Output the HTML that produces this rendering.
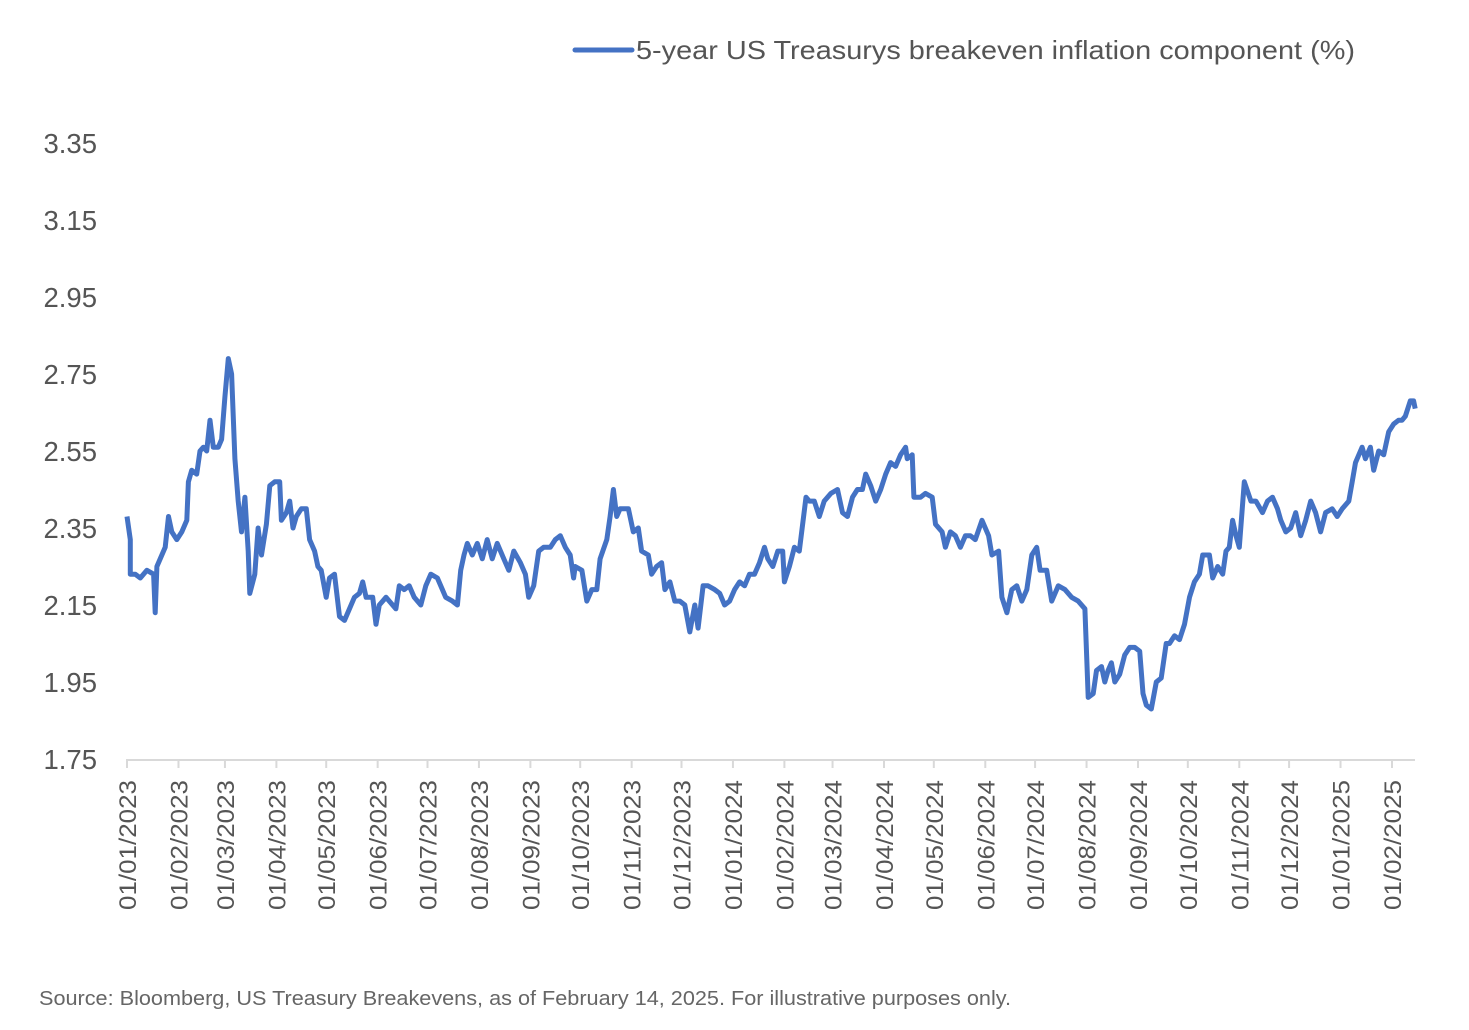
<!DOCTYPE html>
<html><head><meta charset="utf-8"><style>
body{margin:0;background:#fff;}
svg{display:block;font-family:"Liberation Sans",sans-serif;}
</style></head><body>
<svg id="chart" width="1469" height="1030">
<g>
<line x1="575" y1="50" x2="632" y2="50" stroke="#4472C4" stroke-width="5" stroke-linecap="round"/>
<text x="636" y="59" font-size="26" fill="#555" textLength="719" lengthAdjust="spacingAndGlyphs">5-year US Treasurys breakeven inflation component (%)</text>
</g>
<g id="yaxis"></g>
<g id="xaxis"></g>
<g id="series"></g>
<text x="39" y="1005" font-size="20" fill="#666" textLength="972" lengthAdjust="spacingAndGlyphs">Source: Bloomberg, US Treasury Breakevens, as of February 14, 2025. For illustrative purposes only.</text>
</svg>
<script>
const yTicks=[1.75,1.95,2.15,2.35,2.55,2.75,2.95,3.15,3.35];
const monthDays=[0,31,59,90,120,151,181,212,243,273,304,334,365,396,425,456,486,517,547,578,609,639,670,700,731,762];
const monthLabels=["01/01/2023","01/02/2023","01/03/2023","01/04/2023","01/05/2023","01/06/2023","01/07/2023","01/08/2023","01/09/2023","01/10/2023","01/11/2023","01/12/2023","01/01/2024","01/02/2024","01/03/2024","01/04/2024","01/05/2024","01/06/2024","01/07/2024","01/08/2024","01/09/2024","01/10/2024","01/11/2024","01/12/2024","01/01/2025","01/02/2025"];
const days=[0,2,2,5,8,12,16,17,18,23,25,27,30,33,36,37,39,42,44,46,48,50,52,55,57,59,61,63,65,67,69,71,73,74,77,79,81,84,86,89,92,93,96,98,100,102,105,108,110,113,115,117,120,122,125,128,131,134,137,140,142,144,148,150,152,156,160,162,164,167,170,173,177,180,183,187,190,192,196,199,201,203,205,208,211,214,217,220,223,227,230,233,237,240,242,245,248,251,255,258,261,264,267,269,270,274,277,280,283,285,289,291,293,295,297,299,302,305,308,310,314,316,319,322,324,327,330,333,336,339,342,344,347,350,354,357,360,363,366,369,372,375,378,381,384,386,389,392,395,396,399,402,405,409,411,414,417,420,424,428,431,434,437,440,443,445,448,451,454,457,460,463,466,469,470,473,474,478,481,485,487,491,493,496,499,502,505,508,511,515,519,521,525,527,530,533,536,539,542,545,548,550,554,557,561,565,569,573,577,579,582,584,587,589,591,593,595,598,601,604,607,610,612,614,617,620,623,626,628,631,634,637,640,643,646,648,652,654,657,660,662,664,666,668,670,673,677,680,684,687,690,693,695,698,701,704,707,710,713,716,719,722,726,729,732,736,738,740,744,746,749,751,754,757,760,763,766,768,770,773,775,776];
const values=[2.38,2.32,2.23,2.23,2.22,2.24,2.23,2.13,2.25,2.30,2.38,2.34,2.32,2.34,2.37,2.47,2.50,2.49,2.55,2.56,2.55,2.63,2.56,2.56,2.58,2.69,2.79,2.75,2.53,2.42,2.34,2.43,2.29,2.18,2.23,2.35,2.28,2.36,2.46,2.47,2.47,2.37,2.39,2.42,2.35,2.38,2.40,2.40,2.32,2.29,2.25,2.24,2.17,2.22,2.23,2.12,2.11,2.14,2.17,2.18,2.21,2.17,2.17,2.10,2.15,2.17,2.15,2.14,2.20,2.19,2.20,2.17,2.15,2.20,2.23,2.22,2.19,2.17,2.16,2.15,2.24,2.28,2.31,2.28,2.31,2.27,2.32,2.27,2.31,2.27,2.24,2.29,2.26,2.23,2.17,2.20,2.29,2.30,2.30,2.32,2.33,2.30,2.28,2.22,2.25,2.24,2.16,2.19,2.19,2.27,2.32,2.38,2.45,2.38,2.40,2.40,2.40,2.34,2.35,2.29,2.28,2.23,2.25,2.26,2.19,2.21,2.16,2.16,2.15,2.08,2.15,2.09,2.20,2.20,2.19,2.18,2.15,2.16,2.19,2.21,2.20,2.23,2.23,2.26,2.30,2.27,2.25,2.29,2.29,2.21,2.25,2.30,2.29,2.43,2.42,2.42,2.38,2.42,2.44,2.45,2.39,2.38,2.43,2.45,2.45,2.49,2.46,2.42,2.45,2.49,2.52,2.51,2.54,2.56,2.53,2.54,2.43,2.43,2.44,2.43,2.36,2.34,2.30,2.34,2.33,2.30,2.33,2.33,2.32,2.37,2.33,2.28,2.29,2.17,2.13,2.19,2.20,2.16,2.19,2.28,2.30,2.24,2.24,2.16,2.20,2.19,2.17,2.16,2.14,1.91,1.92,1.98,1.99,1.95,1.98,2.00,1.95,1.97,2.02,2.04,2.04,2.03,1.92,1.89,1.88,1.95,1.96,2.05,2.05,2.07,2.06,2.10,2.17,2.21,2.23,2.28,2.28,2.22,2.25,2.23,2.29,2.30,2.37,2.33,2.30,2.47,2.42,2.42,2.39,2.42,2.43,2.40,2.37,2.34,2.35,2.39,2.33,2.37,2.42,2.39,2.34,2.39,2.40,2.38,2.40,2.42,2.47,2.52,2.56,2.53,2.56,2.50,2.55,2.54,2.60,2.62,2.63,2.63,2.64,2.68,2.68,2.66];
const NS="http://www.w3.org/2000/svg";
const x0=127,x1=1392,dayMax=762,yBase=759,yTop=143,vMin=1.75,vMax=3.35;
function xs(d){return x0+(d/dayMax)*(x1-x0);}
function ys(v){return yBase-(v-vMin)/(vMax-vMin)*(yBase-yTop);}
function mk(tag,attrs,parent){const e=document.createElementNS(NS,tag);for(const k in attrs)e.setAttribute(k,attrs[k]);parent.appendChild(e);return e;}
const ya=document.getElementById('yaxis'),xa=document.getElementById('xaxis'),sg=document.getElementById('series');
yTicks.forEach(t=>{
 const tx=mk('text',{x:97,y:ys(t)+10,'text-anchor':'end','font-size':27.5,fill:'#555'},ya);
 
 
 tx.textContent=t.toFixed(2);
});
const ax=mk('line',{x1:127,y1:yBase+1,x2:1415,y2:yBase+1,stroke:'#d9d9d9','stroke-width':2},xa);


monthDays.forEach((d,i)=>{
 const x=xs(d);
 const tk=mk('line',{x1:x,y1:yBase,x2:x,y2:yBase+9,stroke:'#d9d9d9','stroke-width':2},xa);
 
 
 const tx=mk('text',{x:0,y:0,'text-anchor':'end','font-size':24,fill:'#555',textLength:130,lengthAdjust:'spacingAndGlyphs',transform:`translate(${x+9},${yBase+21}) rotate(-90)`},xa);
 
 
 tx.textContent=monthLabels[i];
});
const pts=days.map((d,i)=>xs(d).toFixed(1)+','+ys(values[i]).toFixed(1)).join(' ');
const pl=mk('polyline',{points:pts,fill:'none',stroke:'#4472C4','stroke-width':5,'stroke-linejoin':'round'},sg);


</script>
</body></html>
